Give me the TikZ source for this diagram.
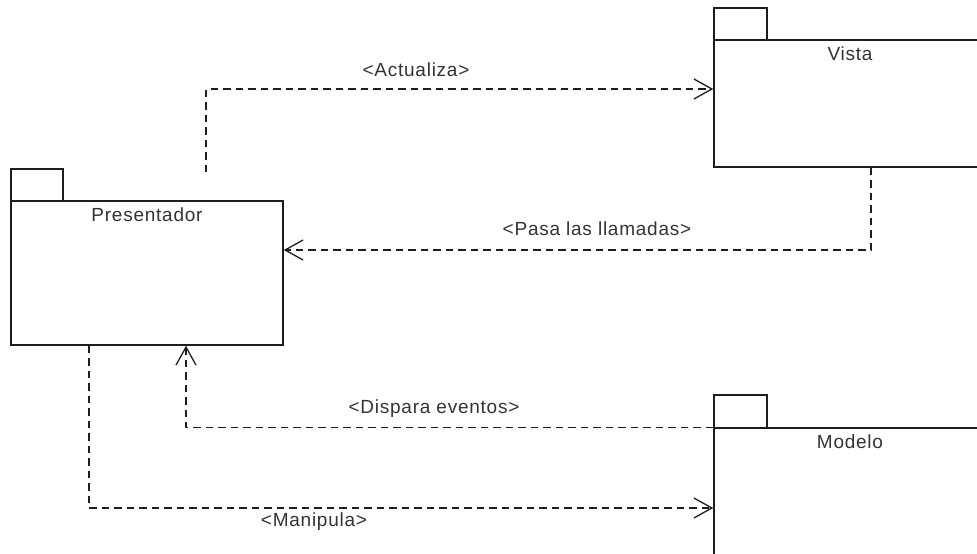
\documentclass[tikz,border=0pt]{standalone}
\usepackage{fontspec}
\setmainfont{Liberation Sans}[LetterSpace=4]
\usetikzlibrary{arrows.meta,calc}
\definecolor{txt}{HTML}{333333}
\definecolor{ln}{HTML}{1E1E1E}
\tikzset{
  pkg/.style={draw=ln,line width=1.5pt,fill=white,inner sep=0pt,rectangle},
  ttl/.style={text=txt,font=\fontsize{19}{21}\selectfont,inner sep=0pt},
  lbl/.style={text=txt,font=\fontsize{19}{21}\selectfont,inner sep=0pt},
  dep/.style={draw=ln,line width=1.3pt,dash pattern=on 7.5pt off 5pt,-{Straight Barb[length=18pt,width=20pt,line width=1.3pt]}}
}
\begin{document}
\begin{tikzpicture}[x=1pt,y=-1pt]
\clip (0,0) rectangle (977,554);
\fill[white] (0,0) rectangle (977,554);
% Presentador
\node[pkg,minimum width=52pt,minimum height=32pt] (prestab) at (37,185) {};
\node[pkg,minimum width=272pt,minimum height=144pt] (pres) at (147,273) {};
\node[ttl] (prestitle) at (147,215) {Presentador};
% Vista
\node[pkg,minimum width=53pt,minimum height=32pt] (vistatab) at (740.5,24) {};
\node[pkg,minimum width=272pt,minimum height=127pt] (vista) at (850,103.5) {};
\node[ttl] (vistatitle) at (850,54) {Vista};
% Modelo
\node[pkg,minimum width=53pt,minimum height=33pt] (modelotab) at (740.5,411.5) {};
\node[pkg,minimum width=272pt,minimum height=144pt] (modelo) at (850,500) {};
\node[ttl] (modelotitle) at (850,442) {Modelo};
% Actualiza
\coordinate (a0) at (206,172);
\coordinate (a1) at (206,89);
\draw[dep] (a0) -- (a1) -- (a1 -| vista.west);
\node[lbl] (l1) at (416,70) {<Actualiza>};
% Pasa las llamadas
\coordinate (p0) at ([xshift=21pt]vista.south);
\coordinate (p1) at (871,250);
\draw[dep] (p0) -- (p1) -- (p1 -| pres.east);
\node[lbl] (l2) at (597,229) {<Pasa las llamadas>};
% Dispara eventos
\draw[dep] (modelo.north west) -| ([xshift=39pt]pres.south);
\node[lbl] (l3) at (434,409) {<Dispara eventos>};
% Manipula
\coordinate (m0) at ([xshift=-58pt]pres.south);
\coordinate (m1) at (89,508);
\draw[dep] (m0) -- (m1) -- (m1 -| modelo.west);
\node[lbl] (l4) at (314,522) {<Manipula>};
\end{tikzpicture}
\end{document}
